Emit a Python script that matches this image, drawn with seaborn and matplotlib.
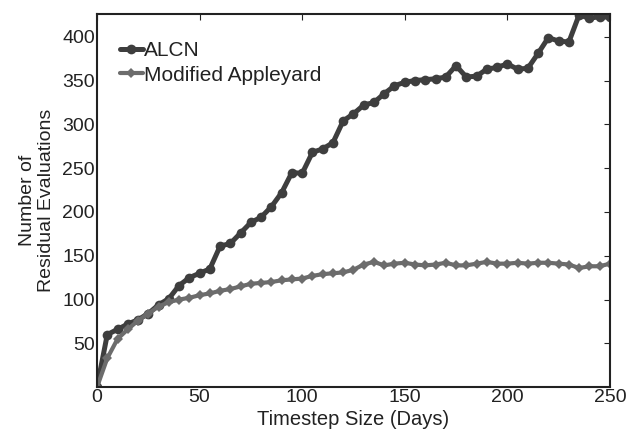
import numpy as np
import pandas as pd
import matplotlib
matplotlib.use("Agg")
import matplotlib.pyplot as plt
import seaborn as sns

days = list(range(0, 251, 5))
alcn = [0, 60, 66, 72, 77, 84, 94, 101, 116, 125,
        130, 135, 161, 164, 176, 188, 194, 206, 222, 245,
        244, 268, 272, 279, 304, 312, 322, 325, 335, 344,
        348, 350, 351, 352, 354, 367, 354, 355, 363, 365,
        369, 363, 364, 381, 399, 395, 394, 425, 421, 423, 422]
appleyard = [0, 33, 55, 66, 76, 84, 92, 97, 100, 102,
             105, 107, 110, 112, 115, 118, 119, 120, 122, 123,
             124, 127, 129, 130, 131, 134, 140, 143, 139, 141,
             142, 140, 139, 140, 142, 139, 139, 141, 143, 141,
             141, 142, 141, 142, 142, 141, 140, 136, 138, 138, 141]
series_names = ["ALCN", "Modified Appleyard"]

df = pd.DataFrame({
    "day": days * 2,
    "value": alcn + appleyard,
    "series": [series_names[0]] * len(days) + [series_names[1]] * len(days),
})

sns.set_theme(style="white")
plt.rcParams['font.family'] = ['Liberation Sans', 'DejaVu Sans']
plt.rcParams['xtick.direction'] = 'in'
plt.rcParams['ytick.direction'] = 'in'

fig = plt.figure(figsize=(6.34, 4.36), dpi=100)
ax = fig.add_axes([0.153, 0.112, 0.809, 0.856])

sns.lineplot(data=df[df.series == "ALCN"], x="day", y="value", ax=ax,
             color="#3e3e3e", linewidth=3.6, marker="o", markersize=7,
             markeredgewidth=0, label="ALCN")
sns.lineplot(data=df[df.series == "Modified Appleyard"], x="day", y="value", ax=ax,
             color="#6c6c6c", linewidth=3.0, marker="D", markersize=5,
             markeredgewidth=0, label="Modified Appleyard")

ax.set_xlim(0, 250)
ax.set_ylim(0, 426)
ax.set_xticks([0, 50, 100, 150, 200, 250])
ax.set_yticks([50, 100, 150, 200, 250, 300, 350, 400])
ax.tick_params(axis='both', which='both', direction='in', length=4, width=0.8,
               top=True, right=True, labelsize=14, colors="#222222", pad=1.5)
for s in ax.spines.values():
    s.set_linewidth(1.5)
    s.set_color("#222222")

ax.set_xlabel("Timestep Size (Days)", fontsize=14.5, color="#222222", labelpad=3)
ax.set_ylabel("Number of\nResidual Evaluations", fontsize=14, color="#222222",
              labelpad=5, linespacing=1.15)

leg = ax.legend(loc="upper left", bbox_to_anchor=(0.02, 0.96), frameon=False,
                fontsize=15, handlelength=1.1, handletextpad=0.05, borderaxespad=0.2,
                labelspacing=0.25)
for t in leg.get_texts():
    t.set_color("#222222")

fig.savefig("out.png", dpi=100)
